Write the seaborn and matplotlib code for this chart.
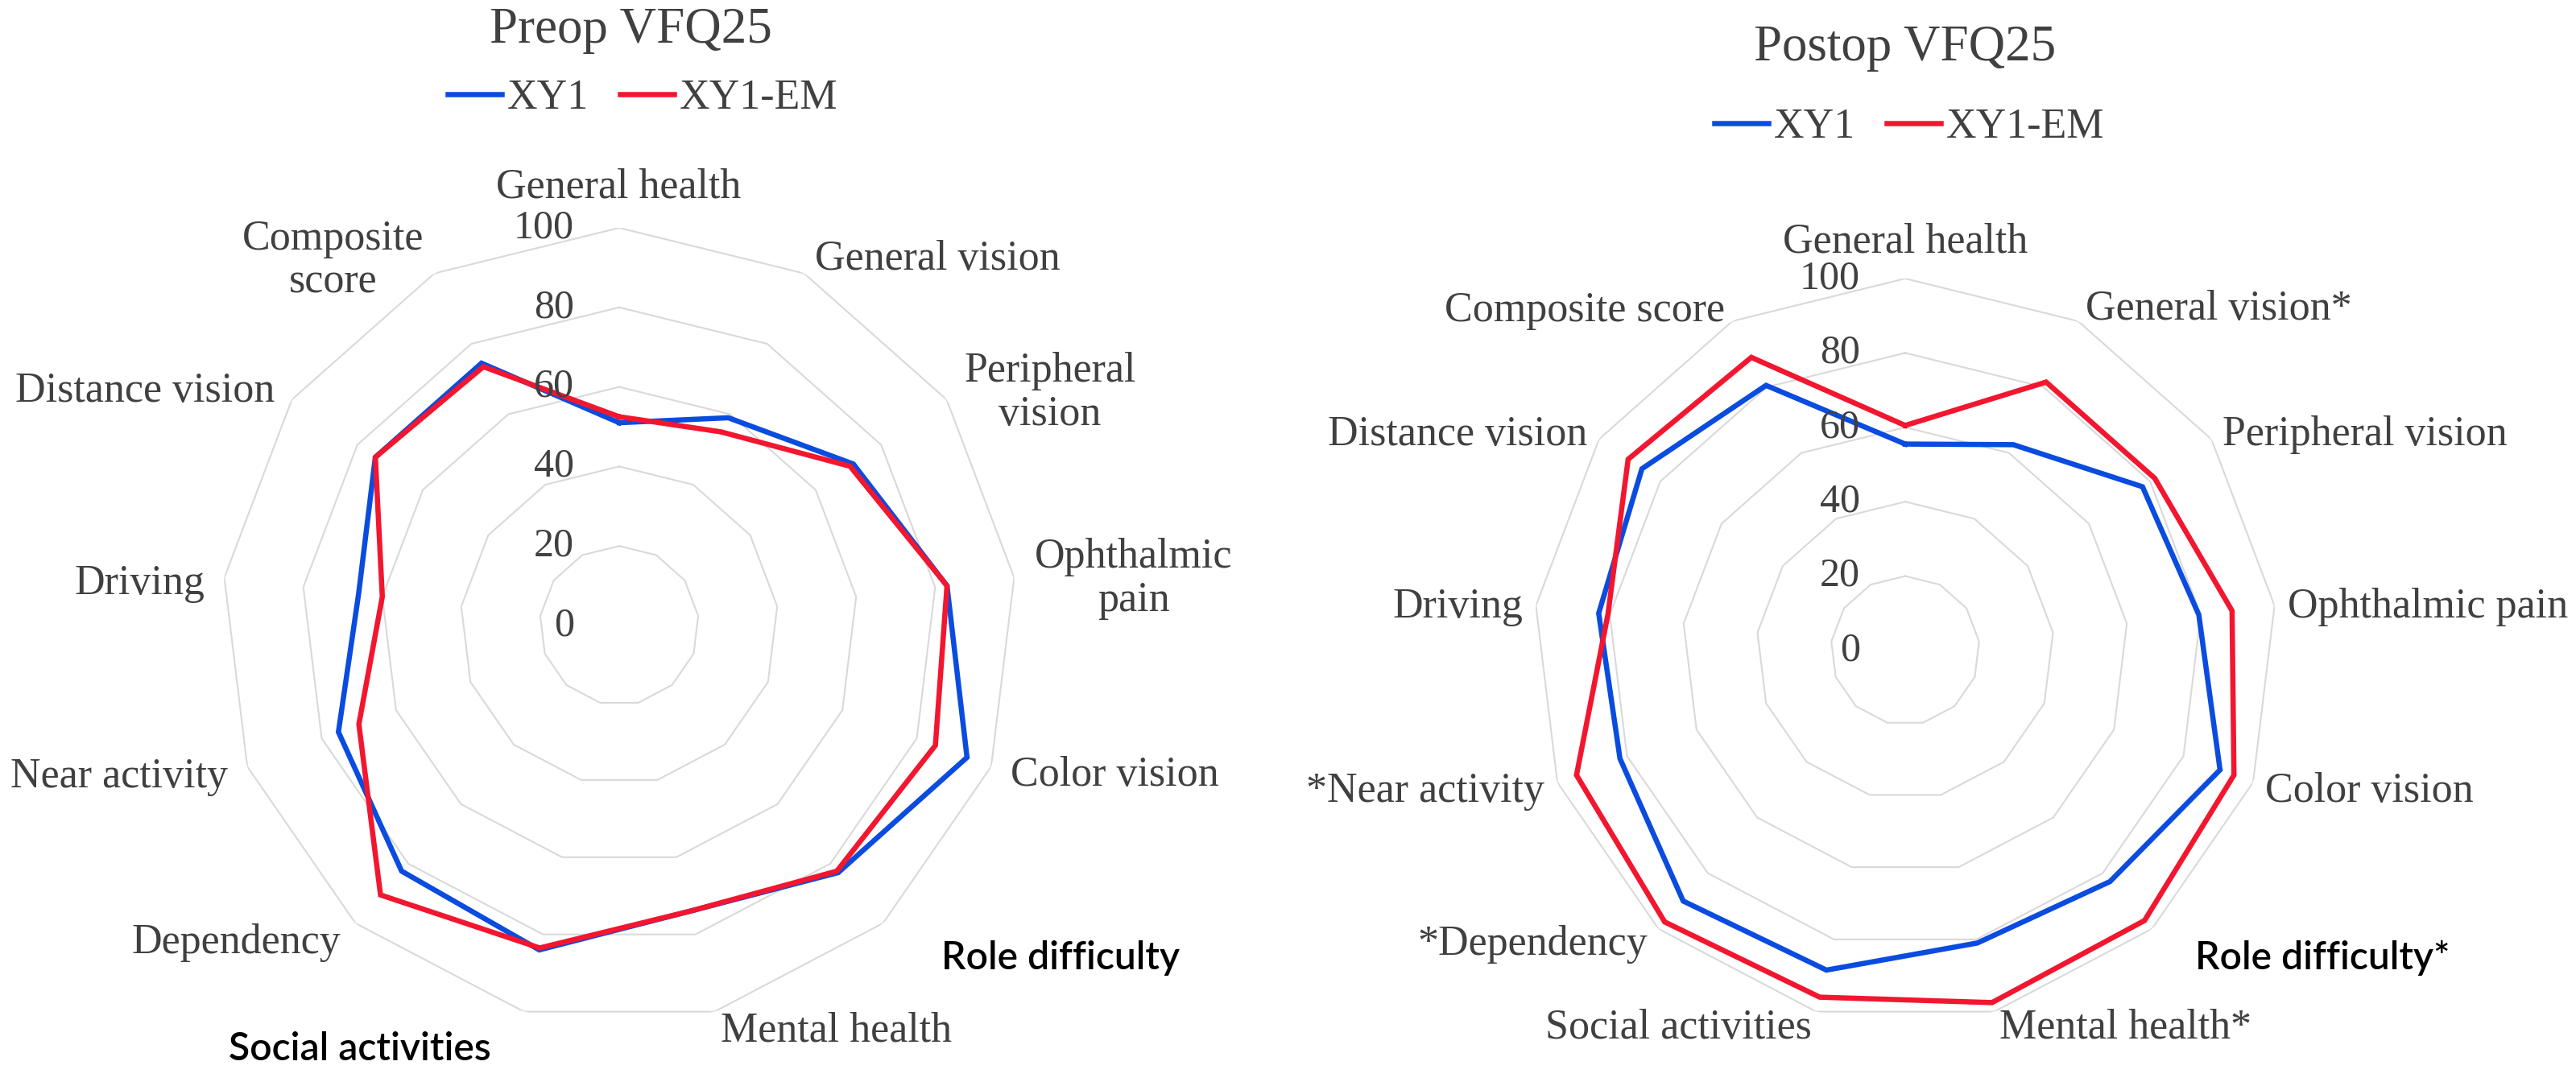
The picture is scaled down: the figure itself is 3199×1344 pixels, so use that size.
import numpy as np
import pandas as pd
import matplotlib
matplotlib.use("Agg")
import matplotlib.pyplot as plt
import matplotlib.transforms as mtransforms
import seaborn as sns

# ---------------- data ----------------
categories = ["General health", "General vision", "Peripheral vision", "Ophthalmic pain",
              "Color vision", "Role difficulty", "Mental health", "Social activities",
              "Dependency", "Near activity", "Driving", "Distance vision", "Composite score"]
series_names = ["XY1", "XY1-EM"]

preop_xy1 = [51, 59, 71.5, 83, 93.5, 83, 74, 84, 82.5, 75.5, 66, 74.5, 74.5]
preop_xy1em = [52.5, 55, 70.5, 83, 85, 82.5, 74, 83.5, 90.5, 70, 60, 74.5, 73.5]
postop_xy1 = [55.5, 62.5, 77.5, 79.5, 90.5, 83, 81, 88.5, 90, 82, 83, 86, 80.5]
postop_xy1em = [60.5, 81.5, 81.5, 88.5, 94.5, 97, 97.5, 96, 97.5, 94.5, 80.5, 90.5, 89]

tick_values = [0, 20, 40, 60, 80, 100]
titles = ["Preop VFQ25", "Postop VFQ25"]

preop_labels = ["General health", "General vision", "Peripheral\nvision", "Ophthalmic\npain",
                "Color vision", "Role difficulty", "Mental health", "Social activities",
                "Dependency", "Near activity", "Driving", "Distance vision", "Composite\nscore"]
postop_labels = ["General health", "General vision*", "Peripheral vision", "Ophthalmic pain",
                 "Color vision", "Role difficulty*", "Mental health*", "Social activities",
                 "*Dependency", "*Near activity", "Driving", "Distance vision", "Composite score"]

# ---------------- style ----------------
W, H = 3199, 1344
DPI = 100
plt.rcParams["font.family"] = ["Liberation Serif", "DejaVu Serif"]
BLUE = "#0A4CE0"
RED = "#F2162F"
GRID = "#D9D9D9"
TXT = "#404040"
PT = 72.0 / DPI           # px -> pt
FS = 52 * PT              # label font
FS_TITLE = 63 * PT
FS_TICK = 50 * PT


def fx(x):
    return x / W


def fy(y):
    return 1 - y / H


fig = plt.figure(figsize=(W / DPI, H / DPI), dpi=DPI)
fig.patch.set_facecolor("white")

n = len(categories)
theta = np.arange(n) * 2 * np.pi / n
theta_closed = np.append(theta, 2 * np.pi)

charts = [
    dict(center=(769, 777), R=494, vals=(preop_xy1, preop_xy1em), title=titles[0],
         title_pos=(783, 38), legend_pos=(798, 122), labels=preop_labels,
         label_pos=[(768, 233, "center"), (1012, 322, "left"), (1304, 488, "center"),
                    (1408, 719, "center"), (1255, 963, "left"), (1169, 1190, "left"),
                    (895, 1281, "left"), (610, 1303, "right"), (423, 1171, "right"),
                    (283, 965, "right"), (254, 725, "right"), (341, 486, "right"),
                    (414, 324, "center")],
         bold={5, 7}),
    dict(center=(2366, 808), R=462, vals=(postop_xy1, postop_xy1em), title=titles[1],
         title_pos=(2366, 60), legend_pos=(2371, 158), labels=postop_labels,
         label_pos=[(2366, 300, "center"), (2590, 384, "left"), (2760, 540, "left"),
                    (2841, 754, "left"), (2813, 983, "left"), (2726, 1190, "left"),
                    (2483, 1277, "left"), (2250, 1277, "right"), (2046, 1173, "right"),
                    (1918, 983, "right"), (1891, 754, "right"), (1971, 540, "right"),
                    (2142, 386, "right")],
         bold={5}),
]

for ch in charts:
    cx, cy = ch["center"]
    R = ch["R"]
    ax = fig.add_axes([fx(cx - R), fy(cy + R), 2 * R / W, 2 * R / H], projection="polar")
    ax.set_theta_zero_location("N")
    ax.set_theta_direction(-1)
    ax.grid(False)
    ax.spines["polar"].set_visible(False)
    ax.set_xticks([])
    ax.set_yticks([])
    ax.set_facecolor("none")

    # polygon rings
    for lev in tick_values[1:]:
        ax.plot(theta_closed, [lev] * (n + 1), color=GRID, lw=2.0 * PT * 1.0 / PT * 0.75,
                zorder=1, solid_joinstyle="miter")

    rows = []
    for name, vals in zip(series_names, ch["vals"]):
        closed = list(vals) + [vals[0]]
        for t, v in zip(theta_closed, closed):
            rows.append({"theta": t, "value": v, "series": name})
    df = pd.DataFrame(rows)
    sns.lineplot(data=df, x="theta", y="value", hue="series", hue_order=series_names,
                 palette=[BLUE, RED], sort=False, estimator=None, ax=ax,
                 linewidth=6.5 * PT, zorder=3)
    for line in ax.get_lines():
        line.set_solid_joinstyle("miter")
    ax.set_ylim(0, 100)
    ax.set_xlabel("")
    ax.set_ylabel("")

    # radial tick labels
    off = mtransforms.offset_copy(ax.transData, fig=fig, x=-56, y=0, units="dots")
    for lev in tick_values:
        ax.text(0, lev, str(lev), transform=off, ha="right", va="center",
                fontsize=FS_TICK, color=TXT, clip_on=False)

    # legend
    sns.move_legend(ax, "center", bbox_to_anchor=(fx(ch["legend_pos"][0]), fy(ch["legend_pos"][1])),
                    bbox_transform=fig.transFigure, ncol=2, frameon=False, title=None,
                    fontsize=FS, handlelength=1.3, handletextpad=0.12, columnspacing=0.75,
                    labelcolor=TXT)

    # title
    fig.text(fx(ch["title_pos"][0]), fy(ch["title_pos"][1]), ch["title"], ha="center",
             va="center", fontsize=FS_TITLE, color=TXT)

    # category labels
    for i, (lab, (x, y, ha)) in enumerate(zip(ch["labels"], ch["label_pos"])):
        if i in ch["bold"]:
            fig.text(fx(x), fy(y), lab, ha=ha, va="center", fontsize=48 * PT,
                     color="black", family=["Lato", "DejaVu Sans"], weight="semibold",
                     multialignment="center")
        else:
            fig.text(fx(x), fy(y), lab, ha=ha, va="center", fontsize=FS, color=TXT,
                     multialignment="center", linespacing=1.15)

fig.savefig("out.png", dpi=DPI, facecolor="white")
